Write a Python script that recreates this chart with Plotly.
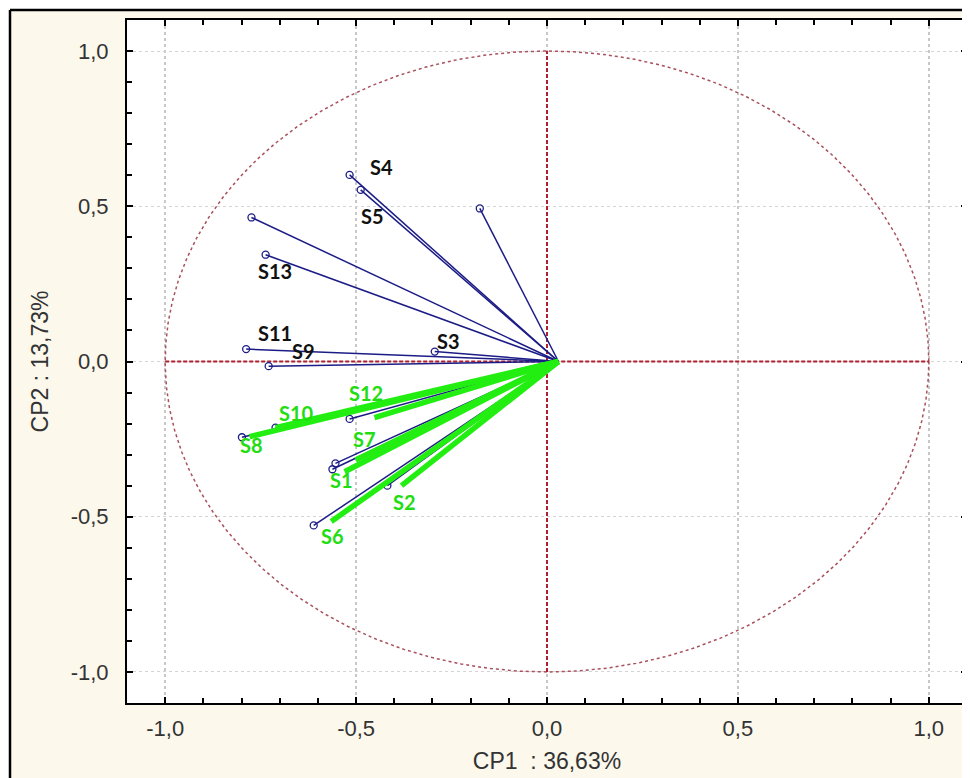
import numpy as np
import plotly.graph_objects as go

# ---------------- data ----------------
var_names = ["S4", "S5", "Va", "Vb", "S13", "S11", "S9", "S3",
             "S8", "S10", "S12", "S7", "S1", "S2", "S6"]
cp1_load = [-0.517, -0.488, -0.176, -0.774, -0.737, -0.788, -0.729, -0.294,
            -0.799, -0.711, -0.517, -0.554, -0.562, -0.418, -0.611]
cp2_load = [0.601, 0.553, 0.493, 0.464, 0.344, 0.040, -0.015, 0.032,
            -0.244, -0.213, -0.185, -0.328, -0.347, -0.400, -0.528]

green_names = ["S8", "S10", "S12", "S7", "S1", "S2", "S6"]
green_cp1 = [-0.779, -0.711, -0.452, -0.501, -0.530, -0.381, -0.565]
green_cp2 = [-0.242, -0.213, -0.181, -0.317, -0.355, -0.400, -0.515]

vector_origin = (0.03, 0.0)

black_labels = ["S4", "S5", "S13", "S11", "S9", "S3"]
black_label_x = [-0.434, -0.456, -0.713, -0.713, -0.639, -0.259]
black_label_y = [0.625, 0.470, 0.293, 0.092, 0.033, 0.066]

green_labels = ["S12", "S10", "S8", "S7", "S1", "S2", "S6"]
green_label_x = [-0.473, -0.657, -0.774, -0.478, -0.539, -0.373, -0.563]
green_label_y = [-0.103, -0.165, -0.269, -0.251, -0.381, -0.451, -0.561]

tick_vals = [-1.0, -0.5, 0.0, 0.5, 1.0]
tick_text = ["-1,0", "-0,5", "0,0", "0,5", "1,0"]

x_title = "CP1  : 36,63%"
y_title = "CP2 : 13,73%"

# ---------------- figure ----------------
fig = go.Figure()

# unit circle
t = np.linspace(0, 2 * np.pi, 721)
fig.add_trace(go.Scatter(x=np.cos(t), y=np.sin(t), mode="lines",
                         line=dict(color="#a8505c", width=1.5, dash="dot"),
                         hoverinfo="skip", showlegend=False))

# red zero lines inside circle
fig.add_trace(go.Scatter(x=[-1, 1], y=[0, 0], mode="lines",
                         line=dict(color="#b02030", width=2, dash="4px,2px"),
                         hoverinfo="skip", showlegend=False))
fig.add_trace(go.Scatter(x=[0, 0], y=[-1, 1], mode="lines",
                         line=dict(color="#b02030", width=2, dash="4px,2px"),
                         hoverinfo="skip", showlegend=False))

# blue loading vectors
ox, oy = vector_origin
for n, x, y in zip(var_names, cp1_load, cp2_load):
    fig.add_trace(go.Scatter(x=[ox, x], y=[oy, y], mode="lines",
                             line=dict(color="#1c1c86", width=1.5),
                             hoverinfo="skip", showlegend=False))
fig.add_trace(go.Scatter(x=cp1_load, y=cp2_load, mode="markers",
                         marker=dict(symbol="circle-open", size=7,
                                     color="#1c1c86", line=dict(width=1.3)),
                         text=var_names, showlegend=False))

# green highlighted vectors
for n, x, y in zip(green_names, green_cp1, green_cp2):
    fig.add_trace(go.Scatter(x=[ox, x], y=[oy, y], mode="lines",
                             line=dict(color="#22ee11", width=5.5),
                             hoverinfo="skip", showlegend=False))

# labels
for s, x, y in zip(black_labels, black_label_x, black_label_y):
    fig.add_annotation(x=x, y=y, text=f"<b>{s}</b>", showarrow=False,
                       font=dict(family="Lato", size=20, color="#111111"))
for s, x, y in zip(green_labels, green_label_x, green_label_y):
    fig.add_annotation(x=x, y=y, text=f"<b>{s}</b>", showarrow=False,
                       font=dict(family="Lato", size=20, color="#22dd11"))

# layout geometry (page body has an 8px margin)
W, H = 970, 778
L, R, T, B = 119, 11, 12, 83
pw, ph = W - L - R, H - T - B
def px_to_paper_x(px):
    return (px - L) / pw
def px_to_paper_y(py):
    return (H - B - py) / ph

# white strips outside the frame, then the black frame lines
fig.add_shape(type="rect", xref="paper", yref="paper",
              x0=px_to_paper_x(-10), x1=px_to_paper_x(2),
              y0=px_to_paper_y(800), y1=px_to_paper_y(-10),
              fillcolor="white", line=dict(width=0), layer="below")
fig.add_shape(type="rect", xref="paper", yref="paper",
              x0=px_to_paper_x(-10), x1=px_to_paper_x(1000),
              y0=px_to_paper_y(2), y1=px_to_paper_y(-10),
              fillcolor="white", line=dict(width=0), layer="below")
fig.add_shape(type="line", xref="paper", yref="paper",
              x0=px_to_paper_x(2), x1=px_to_paper_x(2),
              y0=px_to_paper_y(800), y1=px_to_paper_y(2),
              line=dict(color="black", width=2.5), layer="below")
fig.add_shape(type="line", xref="paper", yref="paper",
              x0=px_to_paper_x(2), x1=px_to_paper_x(1000),
              y0=px_to_paper_y(2), y1=px_to_paper_y(2),
              line=dict(color="black", width=2.5), layer="below")

axis_common = dict(
    range=[-1.1, 1.1], tickmode="array", tickvals=tick_vals, ticktext=tick_text,
    showline=True, linecolor="black", linewidth=2, mirror="ticks",
    ticks="inside", ticklen=6, tickwidth=1.5, tickcolor="black",
    minor=dict(tickmode="linear", tick0=0, dtick=0.1, ticks="inside",
               ticklen=5, tickwidth=1.5, tickcolor="black", showgrid=False),
    showgrid=True, zeroline=False,
    tickfont=dict(family="Liberation Sans", size=22, color="#333333"),
)

fig.update_xaxes(**axis_common, ticklabelstandoff=5,
                 gridcolor="#c8c8c8", gridwidth=1.5, griddash="dot",
                 title=dict(text=x_title, standoff=12,
                            font=dict(family="Liberation Sans", size=23, color="#333333")))
fig.update_yaxes(**axis_common, ticklabelstandoff=12,
                 gridcolor="#d4d4d4", gridwidth=1, griddash="dot",
                 title=dict(text=y_title, standoff=16,
                            font=dict(family="Liberation Sans", size=23, color="#333333")))

fig.update_layout(
    width=W, height=H,
    margin=dict(l=L, r=R, t=T, b=B, autoexpand=False),
    paper_bgcolor="#fcf8ec", plot_bgcolor="white",
    showlegend=False,
)

fig.write_html("out.html")
